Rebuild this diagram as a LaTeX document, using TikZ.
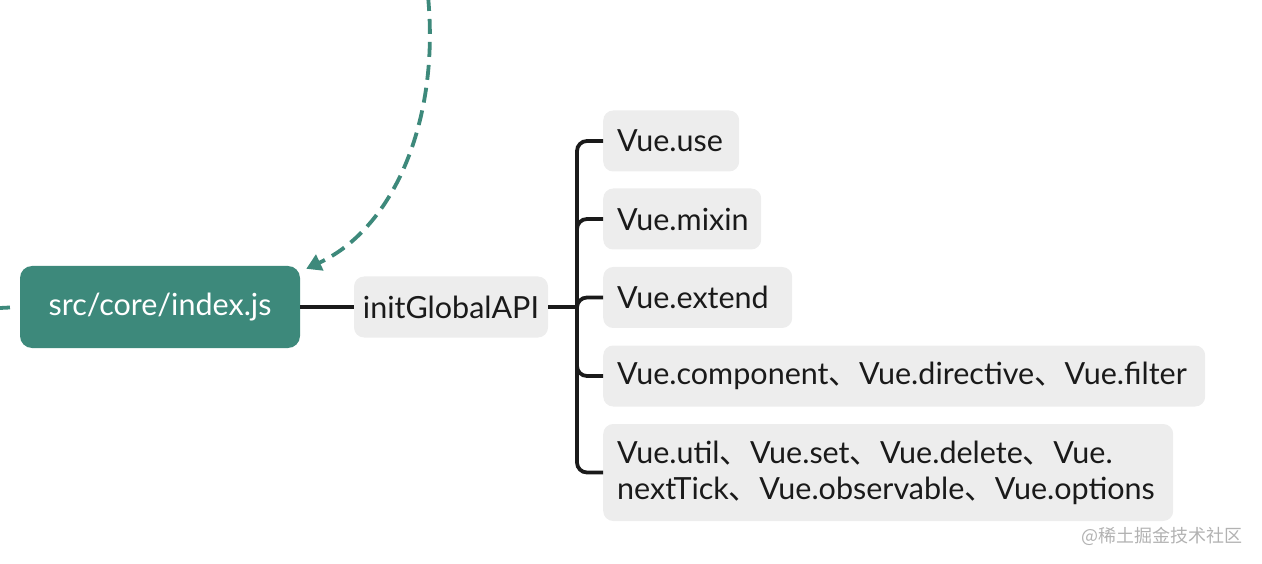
\documentclass[tikz,border=0pt]{standalone}
\usepackage{fontspec}
\setmainfont{Lato}
\newfontfamily\cjk{Noto Sans CJK SC}
\usetikzlibrary{arrows.meta,positioning}
\definecolor{rootgreen}{HTML}{3D897B}
\definecolor{leafgray}{HTML}{EDEDED}
\definecolor{inkblack}{HTML}{1A1A1A}
\newcommand{\dn}{{\cjk 、}}
\tikzset{
  rootbox/.style={fill=rootgreen, text=white, rounded corners=12pt,
    minimum width=280pt, minimum height=82pt},
  leafbox/.style={fill=leafgray, text=inkblack, rounded corners=10pt,
    inner xsep=14pt, minimum height=61pt, align=left},
  branch/.style={draw=inkblack, line width=3.8pt, rounded corners=10pt},
  flow/.style={draw=rootgreen, line width=3.8pt, dash pattern=on 15pt off 8pt}
}

\begin{document}
\begin{tikzpicture}[x=1pt, y=-1pt, every node/.style={font=\fontsize{30.5}{36}\selectfont}]
  \useasboundingbox (0,0) rectangle (1262,564);
  % Root file
  \node[rootbox] (core) at (160,307) {src/core/index.js};
  \node[leafbox, minimum width=194pt, inner xsep=0pt] (api) at (451,307) {initGlobalAPI};
  % Global API members
  \node[leafbox, anchor=west, text width=108pt] (use) at (603,141) {Vue.use};
  \node[leafbox, anchor=west, text width=130pt] (mixin) at (603,219) {Vue.mixin};
  \node[leafbox, anchor=west, text width=161pt] (extend) at (603,297.5) {Vue.extend};
  \node[leafbox, anchor=west, text width=574pt] (comp) at (603,376) {Vue.component\dn Vue.directive\dn Vue.filter};
  \node[leafbox, anchor=west, text width=542pt, minimum height=97pt] (util) at (603,472.5)
    {Vue.util\dn Vue.set\dn Vue.delete\dn Vue.\\nextTick\dn Vue.observable\dn Vue.options};
  % Connectors
  \coordinate (fork) at (577,307);
  \draw[branch] (core.east) -- (api.west);
  \draw[branch] (api.east) -- (fork);
  \foreach \n in {use,mixin,extend,comp,util} {
    \draw[branch] (fork) |- (\n.west);
  }
  % Dashed flows
  \coordinate (from) at (428,-4);
  \draw[flow, -{Triangle[length=15pt,width=17pt]}] (from) .. controls (440,120) and (394,228) .. ([xshift=6pt,yshift=-3pt]core.north east);
  \coordinate (inL) at (-20,309);
  \draw[draw=rootgreen, line width=3.8pt, dash pattern=on 30pt off 10pt] (inL) -- (core.west);
  % Watermark
  \node[text=gray!60, font=\cjk\fontsize{18}{20}\selectfont, anchor=east] (mark) at (1246,536) {@稀土掘金技术社区};
\end{tikzpicture}
\end{document}
